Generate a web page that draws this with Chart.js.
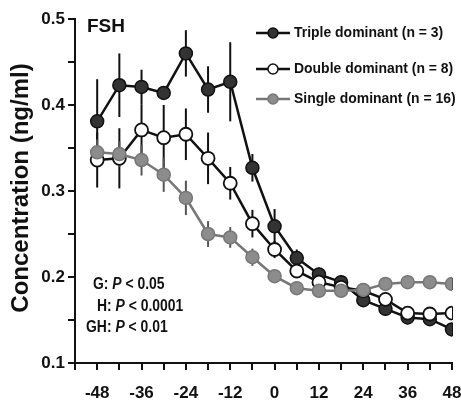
<!DOCTYPE html>
<html>
<head>
<meta charset="utf-8">
<script src="https://cdn.jsdelivr.net/npm/chart.js@4.4.1/dist/chart.umd.min.js"></script>
<style>
  html, body { margin: 0; padding: 0; background: #fff; }
  #fsh { display: block; }
</style>
</head>
<body>
<canvas id="fsh" width="461" height="407"></canvas>
<script>
// hours relative to reference point
const hours = [-48, -42, -36, -30, -24, -18, -12, -6, 0, 6, 12, 18, 24, 30, 36, 42, 48];

const tripleMean = [0.381, 0.423, 0.421, 0.414, 0.460, 0.418, 0.427, 0.327, 0.259, 0.222, 0.203, 0.194, 0.173, 0.163, 0.153, 0.151, 0.139];
const tripleErr  = [0.049, 0.037, 0.020, 0.006, 0.027, 0.027, 0.046, 0.016, 0.020, 0.010, 0.008, 0.008, 0.008, 0.008, 0.008, 0.008, 0.008];

const doubleMean = [0.336, 0.338, 0.371, 0.362, 0.366, 0.338, 0.309, 0.262, 0.232, 0.207, 0.194, 0.188, 0.184, 0.174, 0.158, 0.157, 0.158];
const doubleErr  = [0.032, 0.035, 0.030, 0.038, 0.030, 0.030, 0.019, 0.016, 0.010, 0.008, 0.008, 0.008, 0.008, 0.008, 0.008, 0.008, 0.008];

const singleMean = [0.345, 0.343, 0.336, 0.319, 0.292, 0.250, 0.246, 0.223, 0.201, 0.187, 0.184, 0.184, 0.185, 0.192, 0.194, 0.194, 0.192];
const singleErr  = [0.015, 0.015, 0.018, 0.020, 0.020, 0.015, 0.012, 0.010, 0.007, 0.007, 0.007, 0.007, 0.007, 0.007, 0.007, 0.007, 0.007];

const seriesLabels = ['Triple dominant (n = 3)', 'Double dominant (n = 8)', 'Single dominant (n = 16)'];
const statLines = [['G: ', 'P', ' < 0.05'], ['H: ', 'P', ' < 0.0001'], ['GH: ', 'P', ' < 0.01']];
const yTitle = 'Concentration (ng/ml)';

const SANS = "'Liberation Sans', Arial, sans-serif";

const toPoints = (ys) => hours.map((h, i) => ({ x: h, y: ys[i] }));

// the original type is a condensed face; squeeze the text horizontally
function narrowText(ctx, text, x, y, squeeze) {
    ctx.save();
    ctx.translate(x, y);
    ctx.scale(squeeze, 1);
    ctx.fillText(text, 0, 0);
    ctx.restore();
    return ctx.measureText(text).width * squeeze;
}

// vertical error bars, drawn under lines and markers
const errorBars = {
    id: 'errorBars',
    beforeDatasetsDraw(chart) {
        const { ctx, scales: { x, y } } = chart;
        ctx.save();
        chart.data.datasets.forEach(ds => {
            ctx.strokeStyle = ds.errColor;
            ctx.lineWidth = 2;
            ds.data.forEach((p, i) => {
                const e = ds.errors[i];
                const px = x.getPixelForValue(p.x);
                ctx.beginPath();
                ctx.moveTo(px, y.getPixelForValue(p.y + e));
                ctx.lineTo(px, y.getPixelForValue(p.y - e));
                ctx.stroke();
            });
        });
        ctx.restore();
    }
};

// panel label, legend, stats text and y title
const annotations = {
    id: 'annotations',
    afterDraw(chart) {
        const ctx = chart.ctx;
        ctx.save();
        ctx.fillStyle = '#111';
        ctx.textBaseline = 'middle';

        ctx.save();
        ctx.translate(21, 188);
        ctx.rotate(-Math.PI / 2);
        ctx.textAlign = 'center';
        ctx.font = "bold 24px " + SANS;
        ctx.fillText(yTitle, 0, 0);
        ctx.restore();

        ctx.font = "bold 19px " + SANS;
        ctx.fillText('FSH', 87, 27);

        const rows = [33, 69, 99];
        chart.data.datasets.forEach((ds, i) => {
            const yy = rows[i];
            ctx.strokeStyle = ds.borderColor;
            ctx.lineWidth = 2.5;
            ctx.beginPath();
            ctx.moveTo(256, yy);
            ctx.lineTo(290, yy);
            ctx.stroke();
            ctx.beginPath();
            ctx.arc(273, yy, 5, 0, Math.PI * 2);
            ctx.fillStyle = ds.pointBackgroundColor;
            ctx.fill();
            ctx.lineWidth = 1.5;
            ctx.strokeStyle = ds.pointBorderColor;
            ctx.stroke();
            ctx.fillStyle = '#111';
            ctx.font = "bold 15px " + SANS;
            narrowText(ctx, seriesLabels[i], 294, yy, 0.93);
        });

        const statX = [93, 97, 86];
        const statY = [285, 307, 328];
        statLines.forEach((parts, i) => {
            let cx = statX[i];
            parts.forEach((t, j) => {
                ctx.font = (j === 1 ? 'italic bold 16px ' : 'bold 16px ') + SANS;
                cx += narrowText(ctx, t, cx, statY[i], 0.87);
            });
        });
        ctx.restore();
    }
};

const axisColor = '#111';

new Chart(document.getElementById('fsh'), {
    type: 'scatter',
    data: {
        datasets: [
            {
                label: seriesLabels[0],
                data: toPoints(tripleMean),
                errors: tripleErr,
                errColor: '#111',
                showLine: true,
                borderColor: '#111',
                borderWidth: 2.5,
                pointRadius: 6.5,
                pointBackgroundColor: '#333',
                pointBorderColor: '#111',
                pointBorderWidth: 1.5,
                order: 3
            },
            {
                label: seriesLabels[1],
                data: toPoints(doubleMean),
                errors: doubleErr,
                errColor: '#111',
                showLine: true,
                borderColor: '#111',
                borderWidth: 2.5,
                pointRadius: 6.5,
                pointBackgroundColor: '#fff',
                pointBorderColor: '#111',
                pointBorderWidth: 1.8,
                order: 2
            },
            {
                label: seriesLabels[2],
                data: toPoints(singleMean),
                errors: singleErr,
                errColor: '#555',
                showLine: true,
                borderColor: '#777',
                borderWidth: 2.5,
                pointRadius: 6.5,
                pointBackgroundColor: '#8c8c8c',
                pointBorderColor: '#777',
                pointBorderWidth: 1.5,
                order: 1
            }
        ]
    },
    options: {
        responsive: false,
        animation: false,
        layout: { padding: { top: 19, right: 9, left: 0, bottom: 0 } },
        plugins: {
            legend: { display: false },
            tooltip: { enabled: false }
        },
        scales: {
            x: {
                type: 'linear',
                min: -54,
                max: 48,
                afterFit: (s) => { s.height = 44; s.paddingLeft = 0; s.paddingRight = 0; },
                border: { display: true, color: axisColor, width: 2 },
                grid: { display: true, drawOnChartArea: false, drawTicks: true, tickLength: 7, color: axisColor, lineWidth: 2 },
                ticks: {
                    stepSize: 6,
                    autoSkip: false,
                    maxRotation: 0,
                    padding: 13,
                    color: '#111',
                    font: { family: SANS, size: 17, weight: 'bold' },
                    callback: (v) => (v % 12 === 0 ? String(v) : '')
                }
            },
            y: {
                min: 0.1,
                max: 0.5,
                afterFit: (s) => { s.width = 75; },
                border: { display: true, color: axisColor, width: 2 },
                grid: { display: true, drawOnChartArea: false, drawTicks: true, tickLength: 7, color: axisColor, lineWidth: 2 },
                ticks: {
                    stepSize: 0.05,
                    autoSkip: false,
                    padding: 3,
                    color: '#111',
                    font: { family: SANS, size: 17, weight: 'bold' },
                    callback: (v) => (Math.round(v * 100) % 10 === 0 ? v.toFixed(1) : '')
                },
                title: { display: false }
            }
        }
    },
    plugins: [errorBars, annotations]
});
</script>
</body>
</html>
